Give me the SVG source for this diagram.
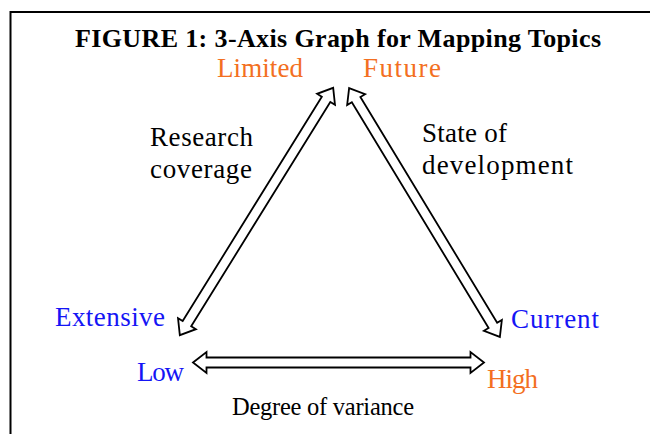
<svg xmlns="http://www.w3.org/2000/svg" width="650" height="434" viewBox="0 0 650 434">
<style>
.t{font-family:"Liberation Serif","DejaVu Serif",serif;font-size:27px;fill:#000}
.title{font-family:"Liberation Serif","DejaVu Serif",serif;font-size:26px;font-weight:bold;fill:#000}
.o{fill:#F36F21}
.b{fill:#1515F5}
.arr{fill:#fff;stroke:#000;stroke-width:1.8;stroke-linejoin:miter}
</style>
<defs>
<path id="dbl" class="arr" d="M-145.5,0 L-132,-10.5 L-132,-5 L132,-5 L132,-10.5 L145.5,0 L132,10.5 L132,5 L-132,5 L-132,10.5 Z"/>
</defs>
<rect width="650" height="434" fill="#fff"/>
<path d="M10.5,434 V12 H650" fill="none" stroke="#000" stroke-width="2"/>
<g id="title"><text class="title" x="338" y="47" text-anchor="middle" textLength="526">FIGURE 1: 3-Axis Graph for Mapping Topics</text></g>
<g id="connectors">
<use href="#dbl" transform="translate(256.5,211.5) rotate(-58.2)"/>
<use href="#dbl" transform="translate(424.5,212.5) rotate(58.8)"/>
<use href="#dbl" transform="translate(338.5,362.5)"/>
</g>
<g id="limited"><text class="t o" x="217" y="77" textLength="86">Limited</text></g>
<g id="future"><text class="t o" x="363" y="77" textLength="78">Future</text></g>
<g id="research"><text class="t" x="150" y="146" textLength="103">Research</text><text class="t" x="150" y="178" textLength="102">coverage</text></g>
<g id="state"><text class="t" x="422" y="142" textLength="85">State of</text><text class="t" x="422" y="174" textLength="151">development</text></g>
<g id="extensive"><text class="t b" x="55" y="326" textLength="110">Extensive</text></g>
<g id="current"><text class="t b" x="511" y="328" textLength="88">Current</text></g>
<g id="low"><text class="t b" x="137" y="381" textLength="47">Low</text></g>
<g id="high"><text class="t o" x="487" y="388" textLength="51">High</text></g>
<g id="variance"><text class="t" x="232" y="415" style="font-size:24.5px" textLength="182">Degree of variance</text></g>
</svg>
